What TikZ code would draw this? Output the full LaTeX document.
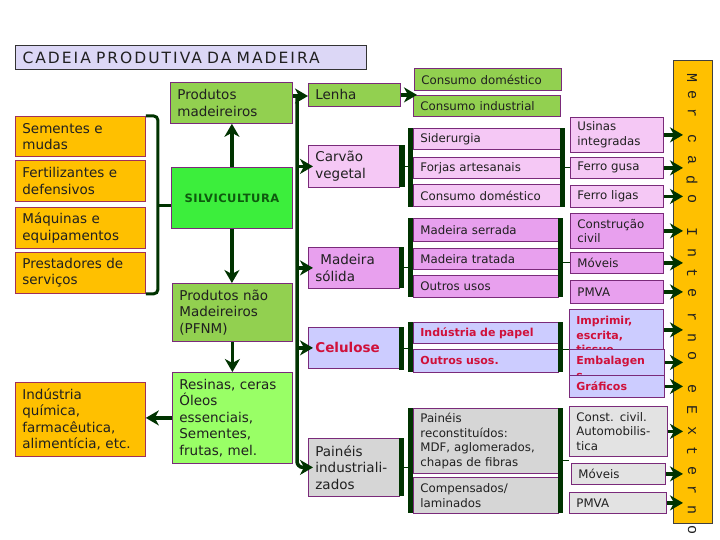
\documentclass[tikz,border=0pt]{standalone}
\usepackage{fontspec}
\setmainfont{DejaVu Sans}
\newfontfamily\titlefont[LetterSpace=13]{DejaVu Sans}
\newfontfamily\silvfont[LetterSpace=4]{DejaVu Sans}
\newfontfamily\merfont{Liberation Mono}
\usetikzlibrary{arrows.meta}
\definecolor{dkgreen}{HTML}{003300}
\definecolor{orng}{HTML}{FFC000}
\definecolor{olive}{HTML}{92D050}
\definecolor{silvg}{HTML}{3CEE3C}
\definecolor{silvtxt}{HTML}{0E5A0E}
\definecolor{lgreen}{HTML}{99FF66}
\definecolor{pkone}{HTML}{F5C8F5}
\definecolor{pktwo}{HTML}{E8A0EE}
\definecolor{lav}{HTML}{CCCCFF}
\definecolor{gry}{HTML}{D6D6D6}
\definecolor{grytwo}{HTML}{E3E3E3}
\definecolor{boxline}{HTML}{7A2A7A}
\definecolor{orline}{HTML}{A0305A}
\definecolor{redt}{HTML}{D0103A}
\definecolor{txt}{HTML}{202020}
\definecolor{lavT}{HTML}{DCD7F6}
\tikzset{
  bx/.style={draw=boxline, line width=0.8pt, inner xsep=7pt, inner ysep=0pt,
    anchor=north west, align=left, text=txt, font=\fontsize{13.5}{16.5}\selectfont},
  orbox/.style={fill=orng, draw=orline},
  olbox/.style={fill=olive},
  sm/.style={font=\fontsize{11.8}{14.5}\selectfont},
  redsm/.style={font=\fontsize{11}{14.5}\selectfont\bfseries, text=redt},
  redbig/.style={font=\fontsize{13.5}{16}\selectfont\bfseries, text=redt},
  barnode/.style={fill=dkgreen, draw=none, inner sep=0pt, anchor=north west},
  arr/.style={draw=dkgreen, line width=3.5pt, -{Stealth[length=13pt,width=15pt,inset=4pt]}},
  trunk/.style={draw=dkgreen, line width=3pt},
  tlink/.style={draw=dkgreen, line width=1pt},
  merl/.style={rotate=-90, font=\merfont\fontsize{15}{15}\selectfont, text=txt, inner sep=0pt}
}
\newcommand\mybox[7][]{%
  \pgfmathsetmacro\bw{#4-#2}\pgfmathsetmacro\bh{#5-#3}\pgfmathsetmacro\tw{#4-#2-14}%
  \node[bx,#1,minimum width=\bw pt,minimum height=\bh pt,text width=\tw pt] (#6) at (#2,#3) {#7};}
\newcommand\mytop[7][]{%
  \pgfmathsetmacro\bw{#4-#2}\pgfmathsetmacro\bh{#5-#3}\pgfmathsetmacro\tw{#4-#2-14}%
  \node[bx,#1,minimum width=\bw pt,minimum height=\bh pt,text width=\tw pt] (#6) at (#2,#3)
    {\parbox[c][\bh pt][t]{\tw pt}{\vspace*{7pt}#7}};}
\newcommand\mybar[5]{%
  \pgfmathsetmacro\bw{#4-#2}\pgfmathsetmacro\bh{#5-#3}%
  \node[barnode,minimum width=\bw pt,minimum height=\bh pt] (#1) at (#2,#3) {};}
\begin{document}
\begin{tikzpicture}[x=1pt,y=-1pt]
\useasboundingbox (0,0) rectangle (720,540);
\fill[white] (0,0) rectangle (720,540);
% title
\node[draw=black!80, fill=lavT, line width=1pt, anchor=north west, minimum width=351pt,
  minimum height=24pt, inner xsep=7pt, inner ysep=0pt, text width=337pt, align=left,
  text=txt, font=\titlefont\fontsize{15.5}{18}\selectfont] (title) at (15,45) {CADEIA PRODUTIVA DA MADEIRA};
% left inputs
\mybox[orbox]{15}{116}{145}{156}{s1}{Sementes e\\mudas}
\mybox[orbox]{15}{160}{145}{201}{s2}{Fertilizantes e\\defensivos}
\mybox[orbox]{15}{207}{145}{248}{s3}{Máquinas e\\equipamentos}
\mybox[orbox]{15}{252}{145}{293}{s4}{Prestadores de\\serviços}
\mybox[orbox]{15}{382}{145}{456}{ind}{Indústria\\química,\\farmacêutica,\\alimentícia, etc.}
% central column
\mybox[olbox]{170}{82}{292}{123}{pm}{Produtos\\madeireiros}
\mybox[fill=silvg, align=center, font=\silvfont\fontsize{11.5}{13}\selectfont\bfseries, text=silvtxt]{171}{167}{292}{228}{silv}{SILVICULTURA}
\mybox[olbox]{172}{283}{292}{341}{pfnm}{Produtos não\\Madeireiros\\(PFNM)}
\mybox[fill=lgreen]{172}{372}{292}{463}{res}{Resinas, ceras\\Óleos\\essenciais,\\Sementes,\\frutas, mel.}
% lenha
\mybox[olbox]{308}{83}{400}{106}{lenha}{Lenha}
\mybox[olbox,sm]{414}{68}{561}{90}{cdA}{Consumo doméstico}
\mybox[olbox,sm]{413}{95}{560}{116}{ci}{Consumo industrial}
% carvao
\mybox[fill=pkone]{308}{145}{399}{187}{carv}{Carvão\\vegetal}
\mybar{carvb}{399}{145}{405}{187}
\mybar{gAl}{408}{128}{413}{207}
\mybox[fill=pkone,sm]{413}{128}{560}{149}{sid}{Siderurgia}
\mybox[fill=pkone,sm]{413}{157}{560}{178}{forj}{Forjas artesanais}
\mybox[fill=pkone,sm]{413}{184}{560}{206}{cdB}{Consumo doméstico}
\mybar{gAr}{560}{128}{565}{207}
% madeira solida
\mybox[fill=pktwo]{308}{247}{399}{288}{mad}{\hspace*{5pt}Madeira\\sólida}
\mybar{madb}{399}{247}{404}{288}
\mybar{gBl}{408}{218}{413}{297}
\mybox[fill=pktwo,sm]{413}{218}{558}{241}{mser}{Madeira serrada}
\mybox[fill=pktwo,sm]{413}{248}{558}{269}{mtra}{Madeira tratada}
\mybox[fill=pktwo,sm]{413}{275}{558}{297}{ouso}{Outros usos}
\mybar{gBr}{558}{218}{563}{297}
% celulose
\mybox[fill=lav,redbig]{308}{327}{399}{368}{cel}{Celulose}
\mybar{celb}{399}{327}{404}{370}
\mybar{gCl}{408}{322}{413}{372}
\mybox[fill=lav,redsm]{413}{322}{558}{343}{pap}{Indústria de papel}
\mybox[fill=lav,redsm]{413}{349}{558}{372}{ousB}{Outros usos.}
\mybar{gCr}{558}{322}{563}{372}
% paineis
\mybox[fill=gry]{308}{438}{399}{496}{pain}{Painéis\\industriali-\\zados}
\mybar{painb}{399}{438}{404}{496}
\mybar{gDl}{408}{408}{413}{513}
\mybox[fill=gry,sm]{413}{408}{558}{473}{prec}{Painéis\\reconstituídos:\\MDF, aglomerados,\\chapas de fibras}
\mybox[fill=gry,sm]{413}{477}{558}{513}{comp}{Compensados/\\laminados}
\mybar{gDr}{558}{408}{563}{513}
% right column
\mybox[fill=pkone,sm]{570}{117}{663}{152}{usi}{Usinas\\integradas}
\mybox[fill=pkone,sm]{570}{157}{663}{178}{fg}{Ferro gusa}
\mybox[fill=pkone,sm]{570}{185}{663}{207}{fl}{Ferro ligas}
\mybox[fill=pktwo,sm]{570}{213}{663}{248}{cc}{Construção\\civil}
\mybox[fill=pktwo,sm]{570}{252}{663}{273}{mov}{Móveis}
\mybox[fill=pktwo,sm]{570}{280}{663}{303}{pmva}{PMVA}
\mytop[fill=lav,redsm]{569}{309}{663}{350}{imp}{Imprimir,\\escrita,\\tissue}
\mytop[fill=lav,redsm]{569}{349}{664}{375}{emb}{Embalagen\\s}
\mybox[fill=lav,redsm]{569}{375}{664}{397}{gra}{Gráficos}
\mybox[fill=grytwo,sm]{569}{406}{667}{456}{cci}{Const. civil.\\Automobilis-\\tica}
\mybox[fill=grytwo,sm]{571}{463}{665}{484}{movB}{Móveis}
\mybox[fill=grytwo,sm]{569}{492}{666}{513}{pmvaB}{PMVA}
% mercado bar
\node[draw=black!75, fill=orng, line width=0.8pt, anchor=north west, minimum width=39pt,
  minimum height=463pt, inner sep=0pt] (merc) at (673,60) {};
\foreach \l/\yy [count=\i] in {M/78,e/95,r/113,c/139,a/160,d/180,o/199,
    I/232,n/253,t/273,e/293,r/317,n/338,o/356,
    e/389,E/410,x/431,t/451,e/471,r/490,n/510,o/530}
  \node[merl] (ml\i) at (692,\yy) {\l};
% bracket
\draw[trunk, rounded corners=4pt] (s1.north east) -- ([xshift=12pt]s1.north east) |- (s4.south east);
\coordinate (brk) at (157,206);
\draw[trunk] (brk) -- (brk -| silv.west);
% silvicultura arrows
\draw[arr] (silv.north) -- (silv.north |- pm.south);
\draw[arr] (silv.south) -- (silv.south |- pfnm.north);
\draw[arr] (pfnm.south) -- (pfnm.south |- res.north);
\draw[arr] (res.west) -- (res.west -| ind.east);
% trunk
\coordinate (tk) at (297,96);
\draw[arr] (pm.east |- tk) -- (lenha.west |- tk);
\draw[arr, rounded corners=6pt, shorten >=-5pt] (tk) |- (pain.west);
\draw[arr, shorten >=-5pt] (tk |- carv.west) -- (carv.west);
\draw[arr, shorten >=-5pt] (tk |- mad.west) -- (mad.west);
\draw[arr, shorten >=-5pt] (tk |- cel.west) -- (cel.west);
\draw[arr, shorten >=-3pt] (lenha.east) -- (lenha.east -| cdA.west);
% group links
\draw[tlink] (carvb.east) -- (carvb.east -| gAl.west);
\draw[tlink] (gAr.east |- fg.west) -- (fg.west);
\draw[tlink] (madb.east) -- (madb.east -| gBl.west);
\draw[tlink] (gBr.east |- mov.west) -- (mov.west);
\draw[tlink] (celb.east) -- (celb.east -| gCl.west);
\draw[tlink] (gCr.east |- emb.north west) -- (emb.north west);
\draw[tlink] (painb.east) -- (painb.east -| gDl.west);
\coordinate (pD) at (569,460);
\draw[tlink] (gDr.east |- pD) -- (pD);
% arrows to market
\foreach \n in {usi,fg,fl,cc,mov,pmva,imp,emb,gra,cci,movB,pmvaB}
  \draw[arr, shorten >=-10pt] (\n.east) -- (\n.east -| merc.west);
\end{tikzpicture}
\end{document}
